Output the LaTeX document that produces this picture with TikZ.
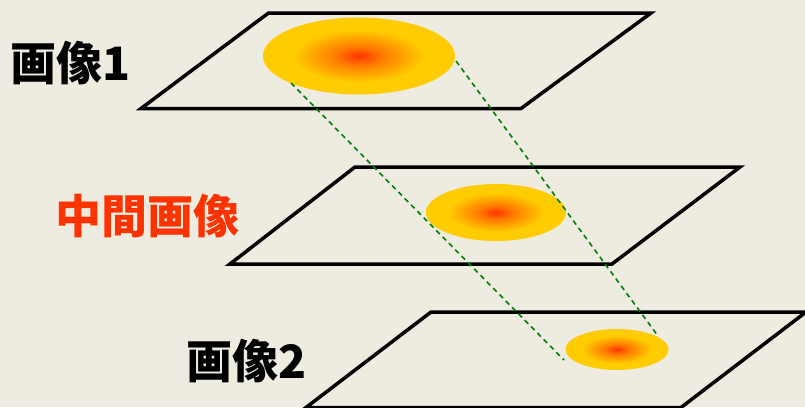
\documentclass[tikz,border=0pt]{standalone}
\usepackage{fontspec}
\newfontfamily\jpfont{Noto Sans CJK JP}
\usetikzlibrary{shapes.geometric}
\definecolor{bg}{HTML}{EEECE1}
\definecolor{midred}{HTML}{FF3300}
\definecolor{blobR}{HTML}{FF3300}
\definecolor{blobO}{HTML}{FF7A00}
\definecolor{blobY}{HTML}{FFCC00}
\definecolor{dashgreen}{HTML}{008000}
\pgfdeclareradialshading{blob}{\pgfpoint{0bp}{0bp}}{color(0bp)=(blobR); color(6bp)=(blobO); color(17bp)=(blobY); color(25bp)=(blobY); color(50bp)=(blobY)}
\tikzset{
  plane/.style={draw=black, line width=3.5pt, line join=miter},
  blobnode/.style={ellipse, inner sep=0pt, shading=blob},
  lbl/.style={inner sep=0pt, font=\jpfont\bfseries\fontsize{46}{50}\selectfont},
  proj/.style={draw=dashgreen, line width=1.6pt, dash pattern=on 5pt off 4pt}
}
\begin{document}
\begin{tikzpicture}[x=1pt,y=-1pt]
\fill[bg] (0,0) rectangle (805,407);
\useasboundingbox (0,0) rectangle (805,407);
% planes
\coordinate (p1a) at (268.5,13);
\coordinate (p1b) at (651,13);
\coordinate (p1c) at (521,108.5);
\coordinate (p1d) at (141,108.5);
\coordinate (p2a) at (355,167);
\coordinate (p2b) at (740,167);
\coordinate (p2c) at (612,264);
\coordinate (p2d) at (230,264);
\coordinate (p3a) at (431,312);
\coordinate (p3b) at (806,312);
\coordinate (p3c) at (681,407.5);
\coordinate (p3d) at (306,407.5);
\draw[plane] (p1a) -- (p1b) -- (p1c) -- (p1d) -- cycle;
\draw[plane] (p2a) -- (p2b) -- (p2c) -- (p2d) -- cycle;
\draw[plane] (p3a) -- (p3b) -- (p3c) -- (p3d) -- cycle;
% blobs
\node[blobnode, minimum width=192pt, minimum height=77pt] (e1) at (359,56) {};
\node[blobnode, minimum width=140pt, minimum height=57pt] (e2) at (496,212.5) {};
\node[blobnode, minimum width=103pt, minimum height=41pt] (e3) at (617,349.5) {};
% projection lines
\coordinate (s1) at (291,83);
\coordinate (t1) at (564,360);
\coordinate (s2) at (456,61);
\coordinate (t2) at (658,336);
\draw[proj] (s1) -- (t1);
\draw[proj] (s2) -- (t2);
% labels
\node[lbl] (l1) at (71,63.5) {画像1};
\node[lbl, text=midred] (l2) at (147.5,216) {中間画像};
\node[lbl] (l3) at (247,361) {画像2};
\end{tikzpicture}
\end{document}
